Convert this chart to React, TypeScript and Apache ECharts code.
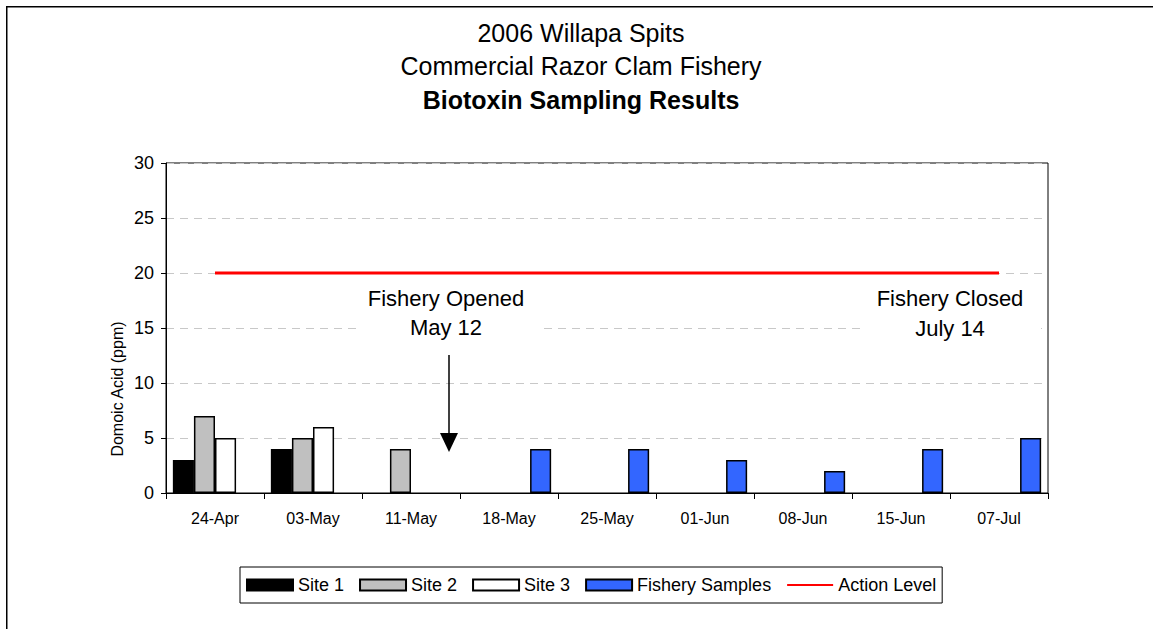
import React, { useEffect, useRef } from 'react';
import * as echarts from 'echarts';

const categories = ['24-Apr', '03-May', '11-May', '18-May', '25-May', '01-Jun', '08-Jun', '15-Jun', '07-Jul'];
const site1 = [3, 4, null, null, null, null, null, null, null];
const site2 = [7, 5, 4, null, null, null, null, null, null];
const site3 = [5, 6, null, null, null, null, null, null, null];
const fisherySamples = [null, null, null, 4, 4, 3, 2, 4, 5];
const actionLevel = [20, 20, 20, 20, 20, 20, 20, 20, 20];
const titleLines = ['2006 Willapa Spits', 'Commercial Razor Clam Fishery', 'Biotoxin Sampling Results'];
const yAxisTitle = 'Domoic Acid (ppm)';

const FONT = "'Liberation Sans', Arial, sans-serif";

const barBase = {
  type: 'bar',
  barGap: '0%',
  barCategoryGap: '14%',
};

function textEl(text: string, x: number, y: number, size: number, extra: any = {}) {
  return {
    type: 'text',
    x,
    y,
    z: 20,
    ...extra,
    style: {
      text,
      fill: '#000',
      font: `${size}px ${FONT}`,
      textAlign: 'center',
      textVerticalAlign: 'middle',
      align: 'center',
      verticalAlign: 'middle',
    },
  };
}

export default function App() {
  const ref = useRef<HTMLDivElement>(null);
  useEffect(() => {
    if (!ref.current) return;
    const chart = echarts.init(ref.current, undefined, { renderer: 'svg' });
    const titleStyle = (bold: boolean) => ({
      fontSize: 25,
      fontWeight: bold ? 'bold' : 'normal',
      color: '#000',
      fontFamily: FONT,
    });
    const option: any = {
      animation: false,
      backgroundColor: '#fff',
      textStyle: { fontFamily: FONT },
      title: [
        { text: titleLines[0], left: 581, top: 20, padding: 0, textAlign: 'center', textStyle: titleStyle(false) },
        { text: titleLines[1], left: 581, top: 53.5, padding: 0, textAlign: 'center', textStyle: titleStyle(false) },
        { text: titleLines[2], left: 581, top: 87, padding: 0, textAlign: 'center', textStyle: titleStyle(true) },
      ],
      grid: {
        left: 166,
        top: 163,
        width: 882,
        height: 330,
        show: true,
        borderColor: '#000',
        borderWidth: 1,
        backgroundColor: 'transparent',
        containLabel: false,
      },
      legend: {
        left: 240,
        top: 567,
        orient: 'horizontal',
        itemWidth: 46,
        itemHeight: 11,
        itemGap: 15,
        padding: [9, 6],
        borderColor: '#000',
        borderWidth: 1,
        textStyle: { fontSize: 18, color: '#000', fontFamily: FONT },
        data: [
          { name: 'Site 1', icon: 'rect' },
          { name: 'Site 2', icon: 'rect' },
          { name: 'Site 3', icon: 'rect' },
          { name: 'Fishery Samples', icon: 'rect' },
          { name: 'Action Level', itemStyle: { color: 'rgba(0,0,0,0)', borderWidth: 0, opacity: 0 } },
        ],
      },
      xAxis: {
        type: 'category',
        data: categories,
        boundaryGap: true,
        axisLine: { show: true, lineStyle: { color: '#000', width: 1 } },
        axisTick: { show: true, length: 6, lineStyle: { color: '#000' } },
        axisLabel: { color: '#000', fontSize: 16, margin: 17, fontFamily: FONT },
        splitLine: { show: false },
      },
      yAxis: {
        type: 'value',
        min: 0,
        max: 30,
        interval: 5,
        axisLine: { show: true, lineStyle: { color: '#000', width: 1 } },
        axisTick: { show: true, length: 5, lineStyle: { color: '#000' } },
        axisLabel: { color: '#000', fontSize: 18, margin: 12, fontFamily: FONT },
        splitLine: { show: true, lineStyle: { color: '#c8c8c8', type: [8, 6], width: 1 } },
      },
      series: [
        { ...barBase, name: 'Site 1', data: site1, itemStyle: { color: '#000000', borderColor: '#000', borderWidth: 1.5 } },
        { ...barBase, name: 'Site 2', data: site2, itemStyle: { color: '#c0c0c0', borderColor: '#000', borderWidth: 1.5 } },
        { ...barBase, name: 'Site 3', data: site3, itemStyle: { color: '#ffffff', borderColor: '#000', borderWidth: 1.5 } },
        { ...barBase, name: 'Fishery Samples', data: fisherySamples, itemStyle: { color: '#3366ff', borderColor: '#000', borderWidth: 1.5 } },
        {
          type: 'line',
          name: 'Action Level',
          data: actionLevel,
          symbol: 'none',
          showSymbol: false,
          lineStyle: { color: '#ff0000', width: 3 },
          itemStyle: { color: '#ff0000' },
          z: 5,
        },
      ],
      graphic: [
        {
          type: 'rect',
          z: 0,
          shape: { x: 6.75, y: 6.75, width: 3000, height: 3000 },
          style: { fill: 'none', stroke: '#000', lineWidth: 1.5 },
          silent: true,
        },
        { type: 'rect', z: 10, shape: { x: 360, y: 283, width: 180, height: 60 }, style: { fill: '#fff' } },
        { type: 'rect', z: 10, shape: { x: 860, y: 283, width: 181, height: 60 }, style: { fill: '#fff' } },
        textEl('Fishery Opened', 446, 298, 22),
        textEl('May 12', 446, 327, 22),
        textEl('Fishery Closed', 950, 298, 22),
        textEl('July 14', 950, 328, 22),
        { type: 'line', z: 20, shape: { x1: 449, y1: 355, x2: 449, y2: 436 }, style: { stroke: '#000', lineWidth: 1.5 } },
        { type: 'polygon', z: 20, shape: { points: [[440, 433], [458, 433], [449, 452]] }, style: { fill: '#000' } },
        textEl(yAxisTitle, 117, 389, 16, { rotation: Math.PI / 2 }),
      ],
    };
    chart.setOption(option);
    return () => chart.dispose();
  }, []);
  return <div ref={ref} style={{ position: 'fixed', left: 0, top: 0, width: 1153, height: 629 }} />;
}
